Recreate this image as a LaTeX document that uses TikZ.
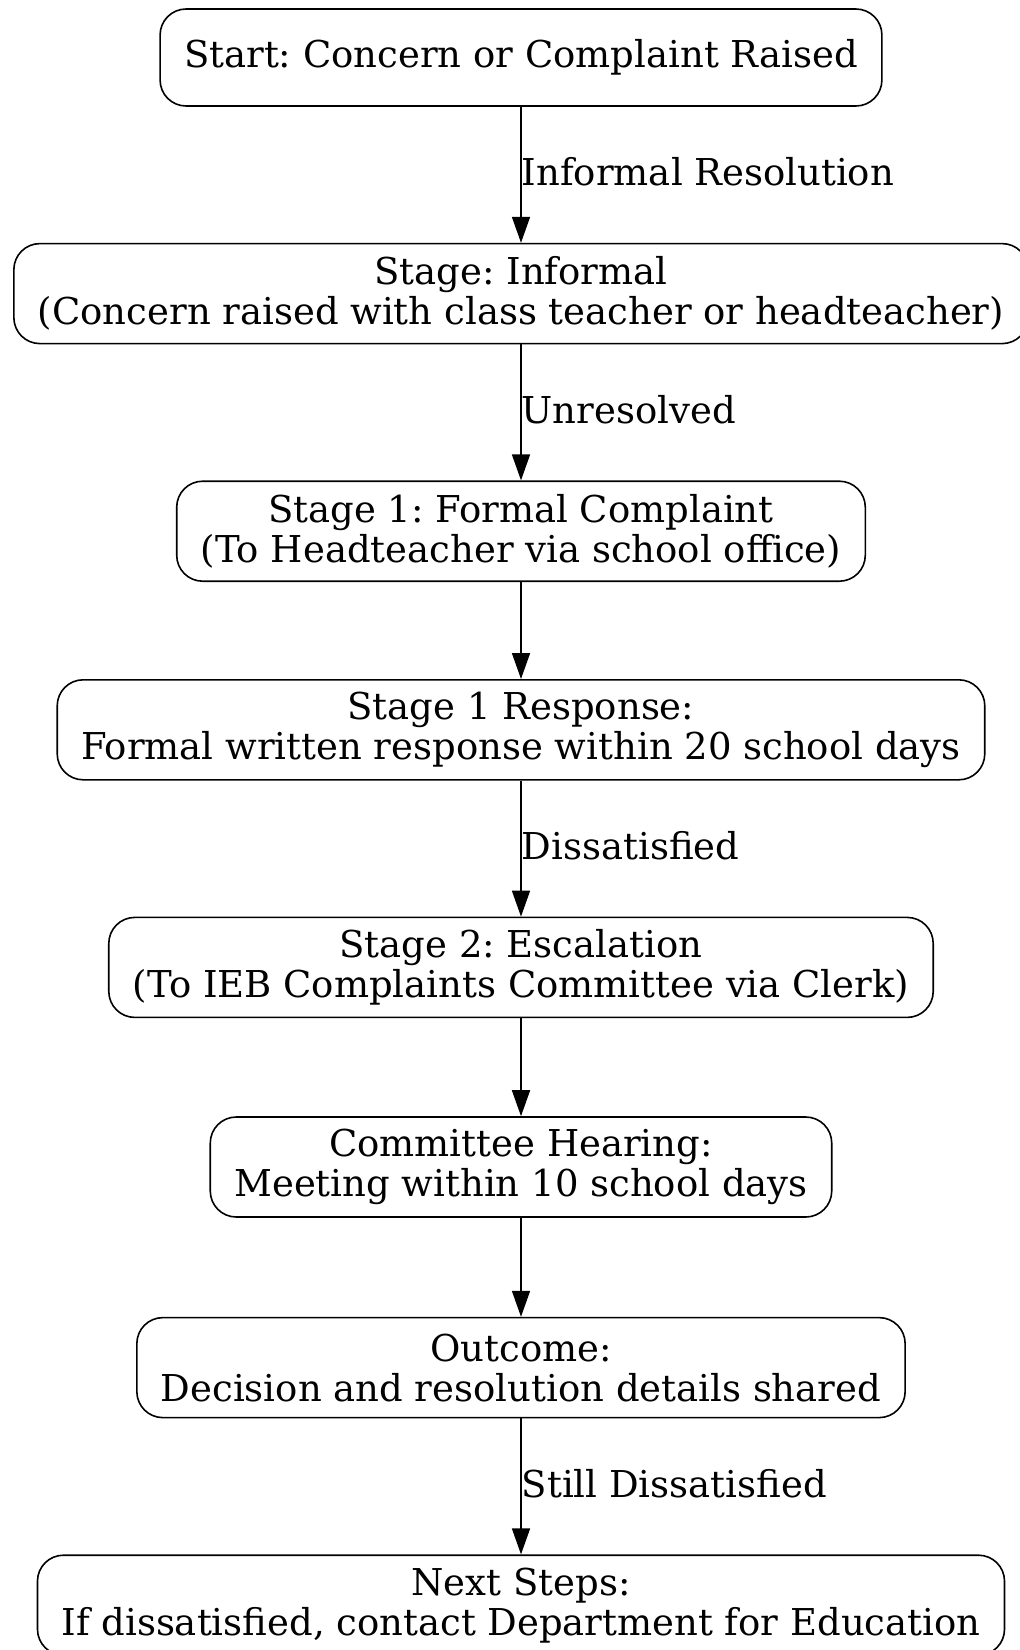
\documentclass[tikz,border=0pt]{standalone}
\usepackage{fontspec}
\setmainfont{DejaVu Serif}
\usetikzlibrary{positioning,arrows.meta}
\frenchspacing

\begin{document}
\begin{tikzpicture}[node distance=49pt, font=\fontsize{18.5}{20}\selectfont]
    \tikzstyle{stage} = [rectangle, rounded corners=13pt, draw=black, line width=0.8pt, fill=white, align=center, minimum height=50pt, inner xsep=12pt, inner ysep=4pt]
    \tikzstyle{arrow} = [line width=0.8pt, -{Triangle[length=13pt, width=9pt]}]
    \tikzstyle{edgelabel} = [midway, right, inner sep=0pt, yshift=1.5pt]

    \useasboundingbox (0,0) rectangle (509.5pt,-825pt);

    \node (start) [stage, minimum height=48.5pt] at (260.5pt,-28.75pt) {Start: Concern or Complaint Raised};
    \node (informal) [stage, below=68pt of start] {Stage: Informal\\(Concern raised with class teacher or headteacher)};
    \node (formal) [stage, below=68pt of informal] {Stage 1: Formal Complaint\\(To Headteacher via school office)};
    \node (response) [stage, below=48.5pt of formal] {Stage 1 Response:\\Formal written response within 20 school days};
    \node (escalation) [stage, below=68pt of response] {Stage 2: Escalation\\(To IEB Complaints Committee via Clerk)};
    \node (hearing) [stage, below=49pt of escalation] {Committee Hearing:\\Meeting within 10 school days};
    \node (outcome) [stage, below=49.5pt of hearing] {Outcome:\\Decision and resolution details shared};
    \node (nextsteps) [stage, below=68pt of outcome] {Next Steps:\\If dissatisfied, contact Department for Education};

    \draw [arrow] (start) -- node[edgelabel] {Informal Resolution} (informal);
    \draw [arrow] (informal) -- node[edgelabel] {Unresolved} (formal);
    \draw [arrow] (formal) -- (response);
    \draw [arrow] (response) -- node[edgelabel] {Dissatisfied} (escalation);
    \draw [arrow] (escalation) -- (hearing);
    \draw [arrow] (hearing) -- (outcome);
    \draw [arrow] (outcome) -- node[edgelabel] {Still Dissatisfied} (nextsteps);
\end{tikzpicture}
\end{document}
